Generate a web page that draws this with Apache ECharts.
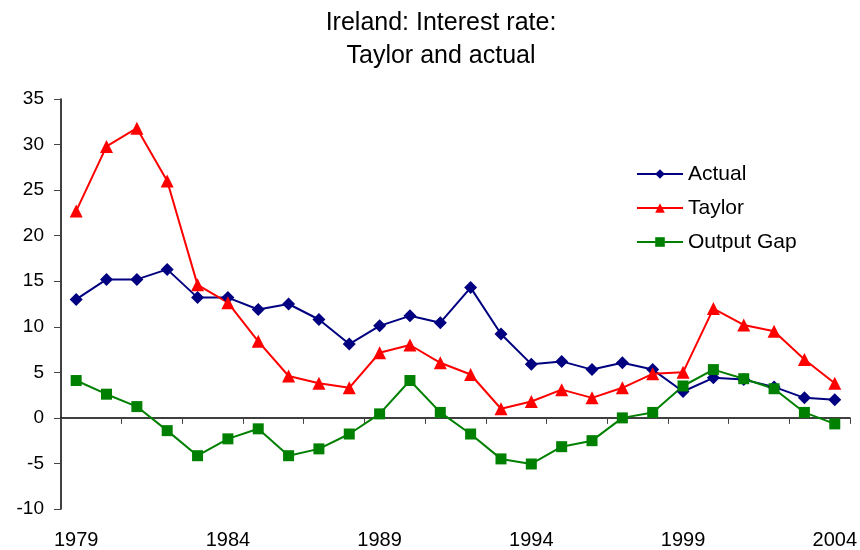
<!DOCTYPE html>
<html>
<head>
<meta charset="utf-8">
<script src="https://cdn.jsdelivr.net/npm/echarts@6/dist/echarts.min.js"></script>
<style>
  html, body { margin: 0; padding: 0; background: #fff; }
  #chart { width: 860px; height: 550px; }
</style>
</head>
<body>
<div id="chart"></div>
<script>
// 年份
const years = ['1979', '1980', '1981', '1982', '1983', '1984', '1985', '1986', '1987', '1988',
  '1989', '1990', '1991', '1992', '1993', '1994', '1995', '1996', '1997', '1998',
  '1999', '2000', '2001', '2002', '2003', '2004']

// 实际利率
const actual = [13.0, 15.2, 15.2, 16.3, 13.2, 13.2, 11.9, 12.5, 10.8, 8.1,
  10.1, 11.2, 10.45, 14.3, 9.2, 5.9, 6.2, 5.3, 6.05, 5.3,
  2.9, 4.4, 4.2, 3.4, 2.2, 2.0]

// Taylor 规则利率
const taylor = [22.7, 29.8, 31.8, 26.0, 14.6, 12.65, 8.4, 4.6, 3.8, 3.3,
  7.15, 8.0, 6.05, 4.76, 1.0, 1.8, 3.1, 2.2, 3.3, 4.84,
  5.0, 12.0, 10.2, 9.5, 6.4, 3.8]

// 产出缺口
const outputGap = [4.1, 2.6, 1.24, -1.4, -4.15, -2.3, -1.2, -4.15, -3.4, -1.77,
  0.44, 4.1, 0.6, -1.77, -4.5, -5.06, -3.16, -2.5, 0.0, 0.6,
  3.5, 5.3, 4.3, 3.2, 0.6, -0.66]

const chart = echarts.init(document.getElementById('chart'))

const fontFamily = '"Liberation Sans", Arial, sans-serif'

const option = {
  animation: false,
  backgroundColor: '#fff',
  title: {
    text: 'Ireland: Interest rate:\nTaylor and actual',
    left: 436,
    top: 2,
    textAlign: 'center',
    textStyle: {
      fontFamily,
      fontSize: 25,
      fontWeight: 'normal',
      color: '#000',
      lineHeight: 33
    }
  },
  legend: {
    orient: 'vertical',
    left: 631,
    top: 157,
    itemWidth: 46,
    itemHeight: 12,
    itemGap: 10,
    textStyle: { fontFamily, fontSize: 21, color: '#000', lineHeight: 24 },
    data: ['Actual', 'Taylor', 'Output Gap']
  },
  grid: {
    left: 61,
    right: 10,
    top: 99,
    bottom: 41,
    containLabel: false
  },
  xAxis: [
    {
      type: 'category',
      data: years,
      boundaryGap: true,
      axisLine: { onZero: true, lineStyle: { color: '#000', width: 1.5 } },
      axisTick: { show: true, inside: false, length: 6, lineStyle: { color: '#444' } },
      axisLabel: { show: false },
      splitLine: { show: false }
    },
    {
      type: 'category',
      data: years,
      position: 'bottom',
      boundaryGap: true,
      axisLine: { show: false, onZero: false },
      axisTick: { show: false },
      axisLabel: {
        interval: 4,
        margin: 21,
        fontFamily,
        fontSize: 20,
        color: '#000'
      },
      splitLine: { show: false }
    }
  ],
  yAxis: {
    type: 'value',
    min: -10,
    max: 35,
    interval: 5,
    axisLine: { show: true, lineStyle: { color: '#000', width: 1.5 } },
    axisTick: { show: true, inside: false, length: 7, lineStyle: { color: '#444' } },
    axisLabel: { fontFamily, fontSize: 19, color: '#000', margin: 17 },
    splitLine: { show: false }
  },
  series: [
    {
      name: 'Actual',
      type: 'line',
      data: actual,
      symbol: 'diamond',
      symbolSize: 13,
      itemStyle: { color: '#000080' },
      lineStyle: { color: '#000080', width: 2 }
    },
    {
      name: 'Taylor',
      type: 'line',
      data: taylor,
      symbol: 'triangle',
      symbolSize: 13,
      itemStyle: { color: '#ff0000' },
      lineStyle: { color: '#ff0000', width: 2 }
    },
    {
      name: 'Output Gap',
      type: 'line',
      data: outputGap,
      symbol: 'rect',
      symbolSize: 11,
      itemStyle: { color: '#008000' },
      lineStyle: { color: '#008000', width: 2 }
    }
  ]
}

chart.setOption(option)
</script>
</body>
</html>
